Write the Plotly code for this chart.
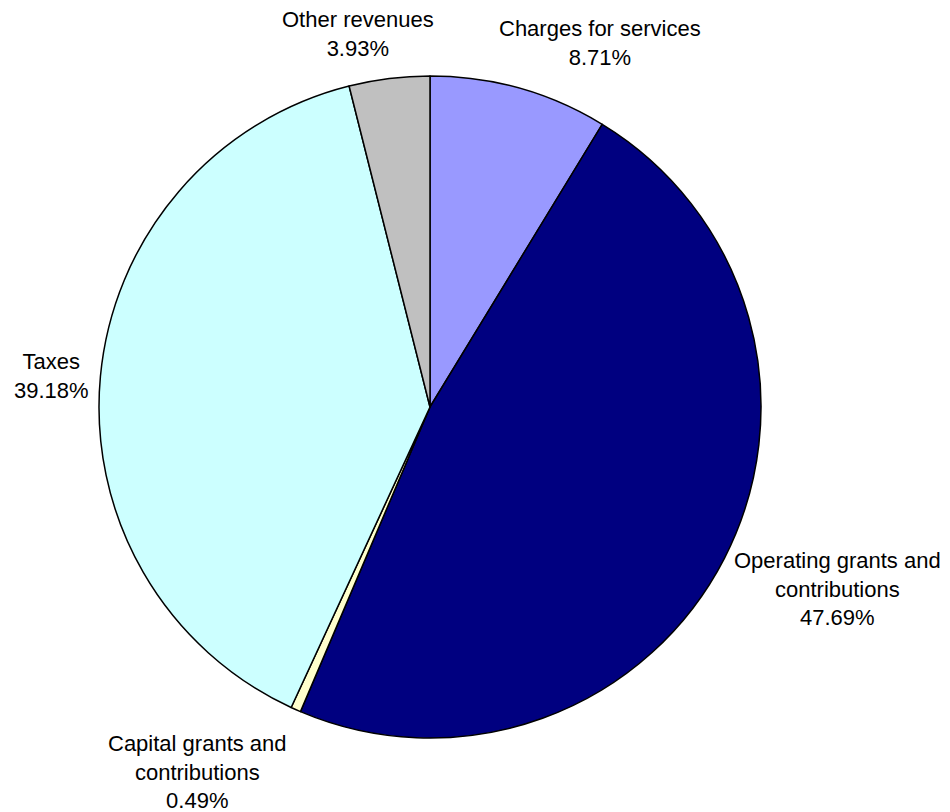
import numpy as np
import plotly.graph_objects as go

categories = ["Charges for services", "Operating grants and contributions",
              "Capital grants and contributions", "Taxes", "Other revenues"]
display_labels = ["Charges for services", "Operating grants and<br>contributions",
                  "Capital grants and<br>contributions", "Taxes", "Other revenues"]
values = [8.71, 47.69, 0.49, 39.18, 3.93]
colors = ["#9999FF", "#000080", "#FFFFCC", "#CCFFFF", "#C0C0C0"]

# label nudges (pixels: right, down) relative to radial anchor point
label_nudges = [(66, 8), (64, 6), (-76, 12), (6, 5), (-24, 10)]

PAGE_MARGIN = 8                      # default body margin of the html page
W, H = 950 - PAGE_MARGIN, 812 - PAGE_MARGIN
CX, CY, R = 430 - PAGE_MARGIN, 407 - PAGE_MARGIN, 331   # pie centre / radius (figure px)
GAP = 55

fig = go.Figure(go.Pie(
    labels=categories,
    values=values,
    textinfo="none",
    sort=False,
    direction="clockwise",
    rotation=0,
    marker=dict(colors=colors, line=dict(color="black", width=1.5)),
    domain=dict(x=[(CX - R) / W, (CX + R) / W], y=[1 - (CY + R) / H, 1 - (CY - R) / H]),
    showlegend=False,
    hoverinfo="label+percent",
))

total = sum(values)
cum = np.cumsum([0] + values[:-1])
annotations = []
for lab, v, c, (nx, ny) in zip(display_labels, values, cum, label_nudges):
    theta = np.deg2rad((c + v / 2) / total * 360.0)
    px = CX + (R + GAP) * np.sin(theta) + nx
    py = CY - (R + GAP) * np.cos(theta) + ny
    annotations.append(dict(
        x=px / W, y=1 - py / H, xref="paper", yref="paper",
        text=f"{lab}<br>{v / total * 100:.2f}%",
        showarrow=False, xanchor="center", yanchor="middle", align="center",
        font=dict(family="Liberation Sans, Arial, sans-serif", size=22, color="black"),
    ))

fig.update_layout(
    width=W, height=H,
    margin=dict(l=0, r=0, t=0, b=0),
    paper_bgcolor="white",
    plot_bgcolor="white",
    annotations=annotations,
)

fig.write_html("out.html")
